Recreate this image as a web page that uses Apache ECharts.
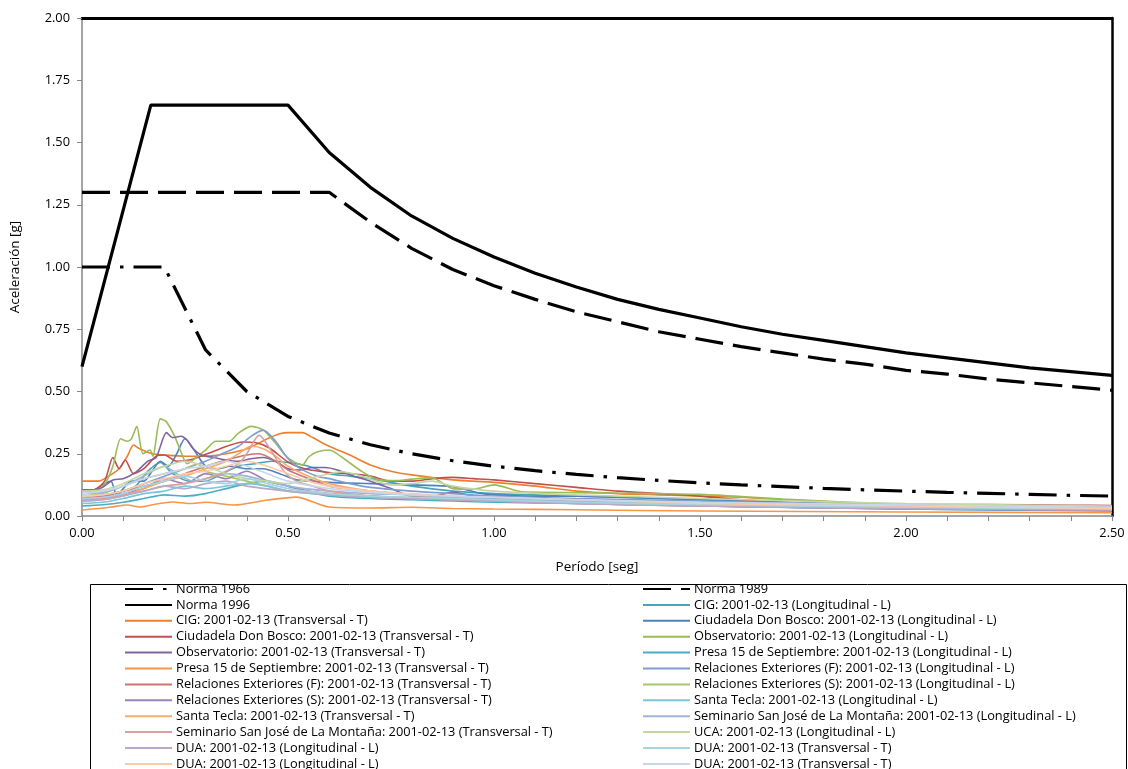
<!DOCTYPE html>
<html><head><meta charset="utf-8">
<script src="https://cdn.jsdelivr.net/npm/echarts@6/dist/echarts.min.js"></script>
<style>html,body{margin:0;padding:0;background:#fff}#c{width:1128px;height:769px}</style>
</head><body><div id="c"></div>
<script>
// ---- Data (period [s], acceleration [g]) ----
const xTicks = [0, 0.5, 1.0, 1.5, 2.0, 2.5];
const yTicks = [0, 0.25, 0.5, 0.75, 1.0, 1.25, 1.5, 1.75, 2.0];

const norma1966 = [[0,1.0],[0.2,1.0],[0.3,0.667],[0.4,0.5],[0.5,0.4],[0.6,0.333],[0.7,0.286],[0.8,0.25],[0.9,0.222],[1.0,0.2],[1.1,0.182],[1.2,0.167],[1.3,0.154],[1.4,0.143],[1.5,0.133],[1.6,0.125],[1.7,0.118],[1.8,0.111],[1.9,0.105],[2.0,0.1],[2.1,0.095],[2.2,0.091],[2.3,0.087],[2.4,0.083],[2.5,0.08]];
const norma1989 = [[0,1.3],[0.6,1.3],[0.7,1.18],[0.8,1.075],[0.9,0.99],[1.0,0.925],[1.1,0.87],[1.2,0.82],[1.3,0.78],[1.4,0.74],[1.5,0.71],[1.6,0.68],[1.7,0.655],[1.8,0.63],[1.9,0.61],[2.0,0.585],[2.1,0.57],[2.2,0.55],[2.3,0.535],[2.4,0.52],[2.5,0.505]];
const norma1996 = [[0,0.6],[0.167,1.65],[0.5,1.65],[0.6,1.46],[0.7,1.32],[0.8,1.205],[0.9,1.115],[1.0,1.04],[1.1,0.975],[1.2,0.92],[1.3,0.87],[1.4,0.83],[1.5,0.795],[1.6,0.76],[1.7,0.73],[1.8,0.705],[1.9,0.68],[2.0,0.655],[2.1,0.635],[2.2,0.615],[2.3,0.595],[2.4,0.58],[2.5,0.565]];

const cigT = [[0,0.14],[0.04,0.14],[0.06,0.155],[0.09,0.19],[0.11,0.24],[0.125,0.285],[0.14,0.27],[0.17,0.25],[0.2,0.245],[0.25,0.24],[0.3,0.24],[0.35,0.25],[0.4,0.27],[0.45,0.31],[0.48,0.33],[0.5,0.335],[0.535,0.335],[0.56,0.315],[0.6,0.28],[0.65,0.245],[0.7,0.205],[0.75,0.18],[0.8,0.165],[0.9,0.145],[1.0,0.135],[1.1,0.12],[1.2,0.1],[1.3,0.09],[1.4,0.085],[1.5,0.08],[1.6,0.075],[1.7,0.066],[1.8,0.058],[1.9,0.05],[2.0,0.045],[2.2,0.035],[2.4,0.028],[2.5,0.026]];
const cigL = [[0,0.07],[0.05,0.075],[0.08,0.09],[0.1,0.1],[0.13,0.12],[0.16,0.18],[0.19,0.215],[0.22,0.17],[0.26,0.14],[0.3,0.14],[0.34,0.17],[0.38,0.2],[0.42,0.21],[0.46,0.22],[0.5,0.215],[0.55,0.2],[0.6,0.17],[0.65,0.16],[0.7,0.15],[0.75,0.135],[0.8,0.12],[0.9,0.1],[1.0,0.09],[1.1,0.085],[1.2,0.08],[1.4,0.07],[1.6,0.06],[1.8,0.05],[2.0,0.045],[2.2,0.04],[2.5,0.035]];
const cidT = [[0,0.1],[0.03,0.105],[0.055,0.14],[0.075,0.235],[0.09,0.19],[0.105,0.225],[0.125,0.17],[0.15,0.19],[0.18,0.24],[0.2,0.245],[0.23,0.22],[0.26,0.225],[0.28,0.235],[0.32,0.26],[0.36,0.285],[0.39,0.297],[0.42,0.295],[0.455,0.273],[0.5,0.217],[0.54,0.19],[0.6,0.175],[0.65,0.17],[0.7,0.16],[0.75,0.14],[0.8,0.14],[0.85,0.15],[0.9,0.155],[0.95,0.15],[1.0,0.145],[1.1,0.13],[1.2,0.115],[1.3,0.1],[1.4,0.09],[1.5,0.08],[1.6,0.065],[1.7,0.055],[1.8,0.048],[1.9,0.045],[2.0,0.045],[2.2,0.046],[2.4,0.043],[2.5,0.042]];
const cidL = [[0,0.1],[0.03,0.105],[0.055,0.13],[0.07,0.14],[0.085,0.08],[0.1,0.11],[0.12,0.14],[0.15,0.14],[0.17,0.18],[0.19,0.22],[0.21,0.2],[0.23,0.25],[0.25,0.31],[0.27,0.27],[0.3,0.2],[0.33,0.19],[0.36,0.2],[0.4,0.19],[0.44,0.19],[0.48,0.17],[0.52,0.145],[0.56,0.14],[0.6,0.135],[0.7,0.13],[0.8,0.125],[0.9,0.118],[0.97,0.09],[1.0,0.085],[1.1,0.08],[1.2,0.08],[1.3,0.075],[1.5,0.065],[1.7,0.055],[1.9,0.045],[2.1,0.04],[2.3,0.036],[2.5,0.034]];
const obsT = [[0,0.105],[0.03,0.105],[0.05,0.115],[0.075,0.145],[0.1,0.15],[0.13,0.175],[0.16,0.22],[0.18,0.235],[0.205,0.335],[0.22,0.315],[0.24,0.32],[0.255,0.305],[0.27,0.27],[0.29,0.245],[0.32,0.235],[0.35,0.225],[0.38,0.22],[0.41,0.23],[0.44,0.235],[0.47,0.22],[0.5,0.19],[0.53,0.185],[0.56,0.195],[0.59,0.195],[0.62,0.185],[0.66,0.16],[0.7,0.14],[0.75,0.11],[0.8,0.08],[0.85,0.08],[0.9,0.095],[0.95,0.08],[1.0,0.07],[1.1,0.06],[1.2,0.055],[1.4,0.046],[1.6,0.038],[1.8,0.033],[2.0,0.028],[2.2,0.025],[2.5,0.022]];
const obsL = [[0,0.1],[0.03,0.1],[0.056,0.13],[0.075,0.2],[0.094,0.31],[0.11,0.3],[0.12,0.31],[0.133,0.36],[0.148,0.25],[0.165,0.265],[0.172,0.24],[0.19,0.39],[0.204,0.38],[0.225,0.32],[0.24,0.258],[0.255,0.21],[0.27,0.225],[0.3,0.265],[0.325,0.3],[0.357,0.3],[0.38,0.333],[0.41,0.36],[0.44,0.345],[0.47,0.292],[0.5,0.233],[0.535,0.205],[0.55,0.237],[0.57,0.257],[0.6,0.265],[0.64,0.225],[0.68,0.178],[0.72,0.145],[0.76,0.142],[0.8,0.148],[0.85,0.153],[0.9,0.11],[0.95,0.108],[1.0,0.125],[1.07,0.097],[1.2,0.094],[1.3,0.092],[1.4,0.09],[1.5,0.087],[1.6,0.078],[1.7,0.068],[1.8,0.06],[1.9,0.052],[2.0,0.047],[2.2,0.04],[2.4,0.035],[2.5,0.033]];
const presaT = [[0,0.024],[0.04,0.03],[0.07,0.036],[0.11,0.044],[0.14,0.036],[0.18,0.048],[0.22,0.056],[0.26,0.05],[0.3,0.055],[0.37,0.044],[0.45,0.064],[0.52,0.076],[0.6,0.036],[0.7,0.032],[0.8,0.035],[0.9,0.03],[1.0,0.028],[1.2,0.025],[1.5,0.02],[2.0,0.016],[2.5,0.013]];
const presaL = [[0,0.04],[0.05,0.045],[0.1,0.055],[0.15,0.07],[0.2,0.085],[0.25,0.08],[0.3,0.09],[0.35,0.11],[0.4,0.13],[0.45,0.14],[0.5,0.12],[0.55,0.095],[0.6,0.08],[0.7,0.07],[0.8,0.065],[0.9,0.06],[1.0,0.055],[1.2,0.05],[1.5,0.04],[2.0,0.028],[2.5,0.02]];
const relFT = [[0,0.07],[0.05,0.08],[0.1,0.1],[0.15,0.12],[0.2,0.14],[0.25,0.17],[0.3,0.2],[0.35,0.225],[0.4,0.245],[0.43,0.25],[0.47,0.22],[0.5,0.185],[0.55,0.15],[0.6,0.12],[0.7,0.1],[0.8,0.085],[0.9,0.075],[1.0,0.07],[1.2,0.06],[1.5,0.05],[2.0,0.035],[2.5,0.028]];
const relFL = [[0,0.08],[0.05,0.085],[0.1,0.1],[0.15,0.13],[0.2,0.16],[0.25,0.19],[0.3,0.22],[0.34,0.25],[0.38,0.28],[0.41,0.32],[0.44,0.345],[0.47,0.3],[0.5,0.23],[0.53,0.19],[0.57,0.16],[0.6,0.15],[0.65,0.13],[0.7,0.115],[0.8,0.1],[0.9,0.09],[1.0,0.08],[1.2,0.07],[1.5,0.06],[2.0,0.045],[2.5,0.035]];
const relST = [[0,0.06],[0.05,0.07],[0.1,0.09],[0.15,0.11],[0.2,0.15],[0.25,0.13],[0.3,0.17],[0.35,0.15],[0.4,0.18],[0.45,0.14],[0.5,0.12],[0.55,0.1],[0.6,0.09],[0.7,0.08],[0.8,0.07],[0.9,0.065],[1.0,0.06],[1.2,0.05],[1.5,0.04],[2.0,0.03],[2.5,0.022]];
const relSL = [[0,0.08],[0.05,0.09],[0.1,0.12],[0.15,0.15],[0.2,0.17],[0.25,0.19],[0.28,0.21],[0.3,0.18],[0.35,0.16],[0.4,0.14],[0.45,0.12],[0.5,0.1],[0.6,0.09],[0.7,0.08],[0.8,0.075],[0.9,0.07],[1.0,0.065],[1.2,0.055],[1.5,0.045],[2.0,0.035],[2.5,0.028]];
const stT = [[0,0.06],[0.05,0.065],[0.1,0.08],[0.15,0.11],[0.2,0.14],[0.25,0.16],[0.3,0.19],[0.35,0.22],[0.38,0.25],[0.41,0.28],[0.44,0.27],[0.47,0.24],[0.5,0.2],[0.55,0.16],[0.6,0.13],[0.7,0.1],[0.8,0.085],[0.9,0.075],[1.0,0.07],[1.2,0.06],[1.5,0.05],[2.0,0.035],[2.5,0.028]];
const stL = [[0,0.05],[0.05,0.055],[0.1,0.07],[0.15,0.09],[0.2,0.1],[0.25,0.12],[0.3,0.11],[0.35,0.12],[0.4,0.13],[0.45,0.12],[0.5,0.1],[0.6,0.085],[0.7,0.075],[0.8,0.07],[0.9,0.065],[1.0,0.06],[1.2,0.055],[1.5,0.045],[2.0,0.035],[2.5,0.028]];
const semT = [[0,0.065],[0.05,0.07],[0.1,0.085],[0.15,0.1],[0.2,0.12],[0.25,0.13],[0.3,0.15],[0.35,0.18],[0.38,0.21],[0.4,0.25],[0.43,0.325],[0.46,0.26],[0.49,0.18],[0.52,0.14],[0.56,0.12],[0.6,0.1],[0.7,0.08],[0.8,0.07],[0.9,0.065],[1.0,0.06],[1.2,0.05],[1.5,0.04],[2.0,0.03],[2.5,0.024]];
const semL = [[0,0.09],[0.05,0.095],[0.1,0.12],[0.15,0.16],[0.2,0.2],[0.23,0.17],[0.27,0.14],[0.3,0.15],[0.35,0.17],[0.4,0.16],[0.45,0.14],[0.5,0.12],[0.6,0.1],[0.7,0.09],[0.8,0.085],[0.9,0.075],[1.0,0.07],[1.2,0.06],[1.5,0.05],[2.0,0.04],[2.5,0.03]];
const ucaL = [[0,0.1],[0.05,0.105],[0.1,0.13],[0.15,0.17],[0.2,0.2],[0.25,0.22],[0.3,0.2],[0.35,0.17],[0.4,0.15],[0.45,0.14],[0.5,0.13],[0.55,0.15],[0.6,0.17],[0.63,0.178],[0.68,0.16],[0.75,0.125],[0.8,0.13],[0.85,0.14],[0.9,0.12],[1.0,0.1],[1.2,0.085],[1.5,0.07],[2.0,0.05],[2.5,0.04]];
const duaL1 = [[0,0.06],[0.05,0.065],[0.1,0.08],[0.15,0.1],[0.2,0.12],[0.25,0.11],[0.3,0.13],[0.35,0.14],[0.4,0.12],[0.5,0.1],[0.6,0.085],[0.7,0.075],[0.8,0.07],[1.0,0.06],[1.2,0.05],[1.5,0.04],[2.0,0.03],[2.5,0.025]];
const duaT1 = [[0,0.07],[0.05,0.075],[0.1,0.09],[0.15,0.12],[0.2,0.14],[0.25,0.16],[0.3,0.14],[0.35,0.13],[0.4,0.15],[0.45,0.13],[0.5,0.11],[0.6,0.09],[0.7,0.08],[0.8,0.075],[1.0,0.065],[1.2,0.055],[1.5,0.045],[2.0,0.035],[2.5,0.028]];
const duaL2 = [[0,0.08],[0.05,0.085],[0.1,0.1],[0.15,0.13],[0.2,0.15],[0.25,0.17],[0.3,0.18],[0.35,0.2],[0.4,0.22],[0.45,0.2],[0.5,0.17],[0.55,0.14],[0.6,0.12],[0.7,0.1],[0.8,0.09],[0.9,0.08],[1.0,0.075],[1.2,0.065],[1.5,0.05],[2.0,0.04],[2.5,0.03]];
const duaT2 = [[0,0.09],[0.05,0.1],[0.1,0.12],[0.15,0.15],[0.2,0.17],[0.25,0.19],[0.3,0.2],[0.35,0.22],[0.4,0.2],[0.45,0.17],[0.5,0.14],[0.6,0.11],[0.7,0.095],[0.8,0.085],[1.0,0.075],[1.2,0.065],[1.5,0.055],[2.0,0.045],[2.5,0.035]];

// ---- Series definitions (name, data, colour) ----
const ZW = '\u200B';
const records = [
  ['CIG: 2001-02-13 (Longitudinal - L)', cigL, '#46A4BE'],
  ['CIG: 2001-02-13 (Transversal - T)', cigT, '#EE7F2D'],
  ['Ciudadela Don Bosco: 2001-02-13 (Longitudinal - L)', cidL, '#4F81BD'],
  ['Ciudadela Don Bosco: 2001-02-13 (Transversal - T)', cidT, '#C0504D'],
  ['Observatorio: 2001-02-13 (Longitudinal - L)', obsL, '#9BBB59'],
  ['Observatorio: 2001-02-13 (Transversal - T)', obsT, '#8064A2'],
  ['Presa 15 de Septiembre: 2001-02-13 (Longitudinal - L)', presaL, '#4BACC6'],
  ['Presa 15 de Septiembre: 2001-02-13 (Transversal - T)', presaT, '#F79646'],
  ['Relaciones Exteriores (F): 2001-02-13 (Longitudinal - L)', relFL, '#7E9ECF'],
  ['Relaciones Exteriores (F): 2001-02-13 (Transversal - T)', relFT, '#CD7371'],
  ['Relaciones Exteriores (S): 2001-02-13 (Longitudinal - L)', relSL, '#A8C66D'],
  ['Relaciones Exteriores (S): 2001-02-13 (Transversal - T)', relST, '#9983B5'],
  ['Santa Tecla: 2001-02-13 (Longitudinal - L)', stL, '#7CC4D8'],
  ['Santa Tecla: 2001-02-13 (Transversal - T)', stT, '#F9AB6B'],
  ['Seminario San José de La Montaña: 2001-02-13 (Longitudinal - L)', semL, '#9CB5D8'],
  ['Seminario San José de La Montaña: 2001-02-13 (Transversal - T)', semT, '#D9A09F'],
  ['UCA: 2001-02-13 (Longitudinal - L)', ucaL, '#C3D7A0'],
  ['DUA: 2001-02-13 (Longitudinal - L)', duaL1, '#B6A9C9'],
  ['DUA: 2001-02-13 (Transversal - T)', duaT1, '#A6D3E0'],
  ['DUA: 2001-02-13 (Longitudinal - L)' + ZW, duaL2, '#FBCBA9'],
  ['DUA: 2001-02-13 (Transversal - T)' + ZW, duaT2, '#C8D6EA']
];

const legendLeft = ['Norma 1966','Norma 1996',
  'CIG: 2001-02-13 (Transversal - T)','Ciudadela Don Bosco: 2001-02-13 (Transversal - T)',
  'Observatorio: 2001-02-13 (Transversal - T)','Presa 15 de Septiembre: 2001-02-13 (Transversal - T)',
  'Relaciones Exteriores (F): 2001-02-13 (Transversal - T)','Relaciones Exteriores (S): 2001-02-13 (Transversal - T)',
  'Santa Tecla: 2001-02-13 (Transversal - T)','Seminario San José de La Montaña: 2001-02-13 (Transversal - T)',
  'DUA: 2001-02-13 (Longitudinal - L)','DUA: 2001-02-13 (Longitudinal - L)' + ZW];
const legendRight = ['Norma 1989',
  'CIG: 2001-02-13 (Longitudinal - L)','Ciudadela Don Bosco: 2001-02-13 (Longitudinal - L)',
  'Observatorio: 2001-02-13 (Longitudinal - L)','Presa 15 de Septiembre: 2001-02-13 (Longitudinal - L)',
  'Relaciones Exteriores (F): 2001-02-13 (Longitudinal - L)','Relaciones Exteriores (S): 2001-02-13 (Longitudinal - L)',
  'Santa Tecla: 2001-02-13 (Longitudinal - L)','Seminario San José de La Montaña: 2001-02-13 (Longitudinal - L)',
  'UCA: 2001-02-13 (Longitudinal - L)','DUA: 2001-02-13 (Transversal - T)','DUA: 2001-02-13 (Transversal - T)' + ZW];

const FONT = 'Open Sans';
const series = [];
records.forEach(r => series.push({
  name: r[0], type: 'line', data: r[1], symbol: 'none', showSymbol: false, smooth: 0.25,
  lineStyle: { color: r[2], width: 1.6 }, itemStyle: { color: r[2] }, z: 2, silent: true
}));
series.push({ name: 'Norma 1966', type: 'line', data: norma1966, symbol: 'none',
  lineStyle: { color: '#000', width: 3.2, type: [28, 10, 3.5, 10], cap: 'butt' }, itemStyle: { color: '#000' }, z: 5 });
series.push({ name: 'Norma 1989', type: 'line', data: norma1989, symbol: 'none',
  lineStyle: { color: '#000', width: 3.2, type: [28, 10], cap: 'butt' }, itemStyle: { color: '#000' }, z: 5 });
series.push({ name: 'Norma 1996', type: 'line', data: norma1996, symbol: 'none',
  lineStyle: { color: '#000', width: 3.2 }, itemStyle: { color: '#000' }, z: 5 });

const legendCommon = {
  orient: 'vertical', top: 582, height: 400, itemWidth: 47, itemHeight: 14, itemGap: 1.9, padding: 0,
  selectedMode: false,
  itemStyle: { opacity: 0 },
  textStyle: { fontFamily: FONT, fontSize: 12.8, color: '#000', lineHeight: 14, padding: [0,0,0,-1] }
};

const option = {
  animation: false,
  backgroundColor: '#fff',
  grid: { left: 79, right: 16, top: 18, bottom: 253, containLabel: false },
  xAxis: [{
    type: 'value', min: xTicks[0], max: xTicks[xTicks.length - 1], interval: 0.5,
    name: 'Período [seg]', nameLocation: 'middle', nameGap: 44,
    nameTextStyle: { fontFamily: FONT, fontSize: 13.5, color: '#000' },
    axisLine: { lineStyle: { color: '#868686', width: 1.5 } },
    axisTick: { show: true, length: 5, lineStyle: { color: '#868686' } },
    minorTick: { show: true, splitNumber: 5, length: 5, lineStyle: { color: '#868686' } },
    axisLabel: { fontFamily: FONT, fontSize: 12.8, color: '#000', margin: 11, formatter: v => v.toFixed(2) },
    splitLine: { show: false }
  }, {
    type: 'value', position: 'top', min: 0, max: 2.5,
    axisLine: { show: true, onZero: false, lineStyle: { color: '#000', width: 3 } },
    axisTick: { show: false }, axisLabel: { show: false }, splitLine: { show: false }
  }],
  yAxis: [{
    type: 'value', min: yTicks[0], max: yTicks[yTicks.length - 1], interval: 0.25,
    name: 'Aceleración [g]', nameLocation: 'middle', nameGap: 60, nameRotate: 90,
    nameTextStyle: { fontFamily: FONT, fontSize: 13.5, color: '#000' },
    axisLine: { show: true, onZero: false, lineStyle: { color: '#868686', width: 1.5 } },
    axisTick: { show: true, length: 5, lineStyle: { color: '#868686' } },
    axisLabel: { fontFamily: FONT, fontSize: 12.8, color: '#000', margin: 12, formatter: v => v.toFixed(2) },
    splitLine: { show: false }
  }, {
    type: 'value', position: 'right', min: 0, max: 2,
    axisLine: { show: true, onZero: false, lineStyle: { color: '#000', width: 2.5 } },
    axisTick: { show: false }, axisLabel: { show: false }, splitLine: { show: false }
  }],
  legend: [
    Object.assign({}, legendCommon, { left: 124, data: legendLeft }),
    Object.assign({}, legendCommon, { left: 642, data: legendRight })
  ],
  graphic: [{
    type: 'rect', left: 88, top: 582, z: -1,
    shape: { x: 0, y: 0, width: 1036, height: 220 },
    style: { fill: 'none', stroke: '#000', lineWidth: 1 }
  }],
  series: series
};

const chart = echarts.init(document.getElementById('c'), null, { renderer: 'canvas' });
chart.setOption(option);
</script>
</body></html>
